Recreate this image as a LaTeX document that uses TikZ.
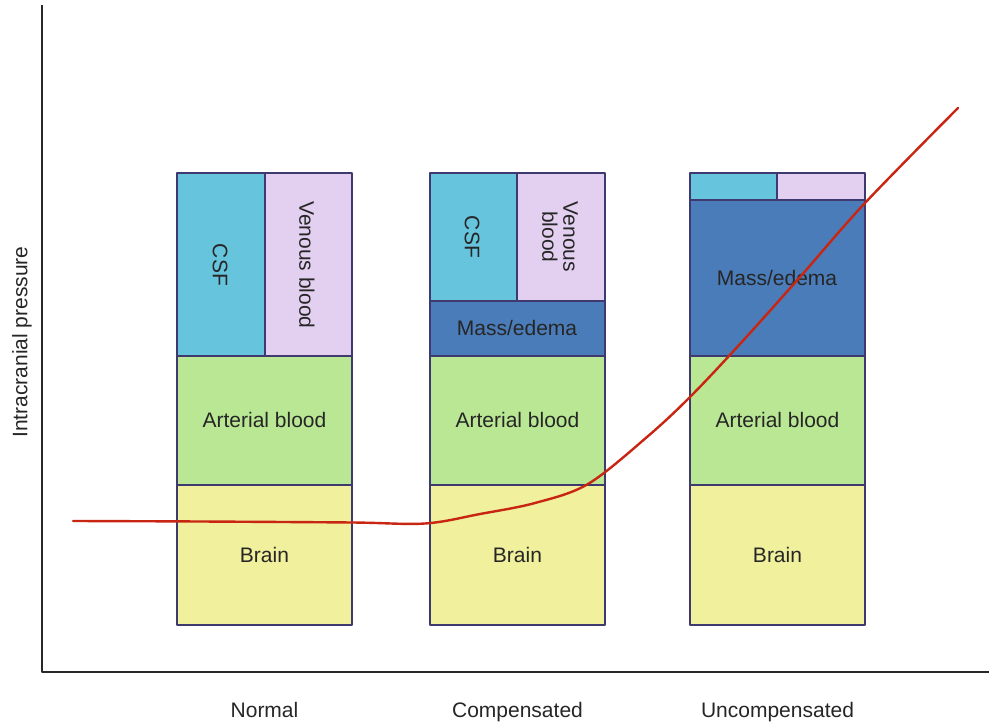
\documentclass[tikz,border=0pt]{standalone}
\usepackage{fontspec}
\setmainfont{Liberation Sans}
\usepackage{tikz}
\usepackage{xcolor}
\definecolor{csfcyan}{RGB}{102,196,220}
\definecolor{venlilac}{RGB}{227,208,240}
\definecolor{massblue}{RGB}{74,124,185}
\definecolor{artgreen}{RGB}{185,231,147}
\definecolor{brainyellow}{RGB}{240,240,157}
\definecolor{edgenavy}{RGB}{62,58,112}
\definecolor{icpred}{RGB}{200,38,18}
\definecolor{axisgray}{RGB}{40,40,40}

\begin{document}
\begin{tikzpicture}[x=1pt,y=-1pt,line join=round,font=\fontsize{21}{24}\selectfont,text=black!85]
  \useasboundingbox (0,0) rectangle (989,722);
  % axes
  \draw[axisgray,line width=1.6pt] (42,5) -- (42,672) -- (989,672);
  \node[rotate=90] (ylab) at (22,342) {Intracranial pressure};
  % the two lower layers are the same in every column
  \foreach \x/\n/\t in {177/norm/Normal,430/comp/Compensated,690/uncomp/Uncompensated}{
    \filldraw[fill=brainyellow,draw=edgenavy,line width=1.1pt] (\x,485) rectangle ++(175,140);
    \filldraw[fill=artgreen,draw=edgenavy,line width=1.1pt] (\x,356) rectangle ++(175,129);
    \node (brain-\n) at (\x+87.5,555) {Brain};
    \node (art-\n) at (\x+87.5,420) {Arterial blood};
    \node[anchor=base] (lab-\n) at (\x+87.5,717) {\t};
  }
  % normal
  \filldraw[fill=csfcyan,draw=edgenavy,line width=1.1pt] (177,173) rectangle (265,356);
  \filldraw[fill=venlilac,draw=edgenavy,line width=1.1pt] (265,173) rectangle (352,356);
  \node[rotate=-90] (csf-norm) at (220,265) {CSF};
  \node[rotate=-90] (ven-norm) at (307,265) {Venous blood};
  % compensated
  \filldraw[fill=csfcyan,draw=edgenavy,line width=1.1pt] (430,173) rectangle (517,301);
  \filldraw[fill=venlilac,draw=edgenavy,line width=1.1pt] (517,173) rectangle (605,301);
  \filldraw[fill=massblue,draw=edgenavy,line width=1.1pt] (430,301) rectangle (605,356);
  \node[rotate=-90] (csf-comp) at (472,237) {CSF};
  \node[rotate=-90,align=center,font=\fontsize{21}{21}\selectfont] (ven-comp) at (560,237) {Venous\\blood};
  \node (mass-comp) at (517,328) {Mass/edema};
  % uncompensated
  \filldraw[fill=csfcyan,draw=edgenavy,line width=1.1pt] (690,173) rectangle (777,200);
  \filldraw[fill=venlilac,draw=edgenavy,line width=1.1pt] (777,173) rectangle (865,200);
  \filldraw[fill=massblue,draw=edgenavy,line width=1.1pt] (690,200) rectangle (865,356);
  \node (mass-uncomp) at (777,278) {Mass/edema};
  % pressure curve
  \draw[icpred,line width=2.4pt,line cap=round] plot[smooth,tension=0.55] coordinates {(73,521) (200,521.5) (352,522.5) (425,523.5) (480,514) (535,503) (588,484) (647,437) (690,397) (740,344) (800,277) (865,203) (958,108)};
\end{tikzpicture}
\end{document}
